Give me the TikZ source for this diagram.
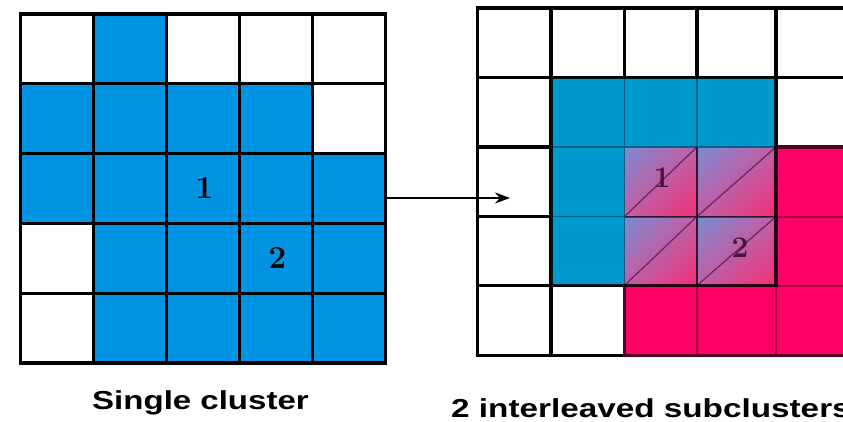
\documentclass[tikz,border=0pt]{standalone}
\usepackage{fontspec}
\newfontfamily\capfont{Liberation Sans}
\usetikzlibrary{arrows.meta,shadings}
\definecolor{lblue}{RGB}{0,148,226}
\definecolor{rblue}{RGB}{0,153,204}
\definecolor{rpink}{RGB}{255,0,102}
\definecolor{ovA}{RGB}{120,140,212}
\definecolor{ovB}{RGB}{245,45,115}
\definecolor{ovM}{RGB}{195,95,165}
\definecolor{tealline}{RGB}{0,80,115}
\definecolor{pinkline}{RGB}{140,0,55}
\definecolor{pinkedge}{RGB}{80,0,30}
\definecolor{diagline}{RGB}{95,30,90}
\definecolor{ovtext}{RGB}{70,20,60}
\begin{document}
\begin{tikzpicture}[x=1pt,y=-1pt,
  gridline/.style={line width=3.3pt,black,line cap=rect},
  thinteal/.style={line width=1.6pt,tealline,opacity=0.8},
  thinpink/.style={line width=2pt,pinkline,opacity=0.8},
  diagstroke/.style={line width=1.3pt,diagline,opacity=0.85},
  digit/.style={font=\fontsize{32}{36}\selectfont\bfseries,inner sep=0pt},
  ovdigit/.style={font=\fontsize{30}{34}\selectfont\bfseries,inner sep=0pt,text=ovtext},
  caption/.style={font=\capfont\bfseries\fontsize{26}{30}\selectfont,inner sep=0pt,anchor=base west}]
\useasboundingbox (0,0) rectangle (843,421);
\clip (0,0) rectangle (843,421);
\fill[white] (0,0) rectangle (843,421);

% ---------- left grid ----------
\foreach \c/\r in {1/0, 0/1,1/1,2/1,3/1, 0/2,1/2,2/2,3/2,4/2, 1/3,2/3,3/3,4/3, 1/4,2/4,3/4,4/4}
  \fill[lblue] ({20.5+73*\c},{14+69.8*\r}) rectangle ({20.5+73*(\c+1)},{14+69.8*(\r+1)});
\foreach \i in {0,...,5} {
  \draw[gridline] ({20.5+73*\i},14) -- ({20.5+73*\i},363);
  \draw[gridline] (20.5,{14+69.8*\i}) -- (385.5,{14+69.8*\i});
}
\node[digit] (l1) at (204.5,188) {1};
\node[digit] (l2) at (277.5,258) {2};

% ---------- right grid ----------
\foreach \x in {477.5,551,624.5,697,776,850}
  \draw[gridline] (\x,8) -- (\x,355.5);
\foreach \y in {8,77.5,147,216.5,285.5,355.5}
  \draw[gridline] (477.5,\y) -- (850,\y);

\fill[rblue] (551,77.5) rectangle (776,285.5);
\fill[rpink] (624.5,147) rectangle (850,355.5);
\foreach \xa/\xb in {624.5/697,697/776}
  \foreach \ya/\yb in {147/216.5,216.5/285.5} {
    \shade[upper left=ovA,lower right=ovB,upper right=ovM,lower left=ovM]
      (\xa,\ya) rectangle (\xb,\yb);
    \draw[diagstroke] (\xa,\yb) -- (\xb,\ya);
  }

% interior thin lines
\draw[thinteal] (551,147) -- (624.5,147) (551,216.5) -- (624.5,216.5)
                (624.5,77.5) -- (624.5,147) (697,77.5) -- (697,147)
                (624.5,147) -- (776,147);
\draw[thinteal] (624.5,147) -- (624.5,285.5);
\draw[thinpink] (697,147) -- (697,355.5) (776,285.5) -- (776,355.5)
                (624.5,216.5) -- (850,216.5) (776,285.5) -- (850,285.5);
\draw[line width=1.6pt,black!70!tealline,opacity=0.7] (697,147) -- (697,285.5)
                (624.5,216.5) -- (776,216.5);

% region outlines
\draw[line width=3.3pt,pinkedge,line join=miter]
  (776,147) -- (850,147) (850,355.5) -- (624.5,355.5) -- (624.5,285.5);
\draw[line width=3.3pt,black,opacity=0.85,line join=miter] (551,77.5) rectangle (776,285.5);

\node[ovdigit] (r1) at (662,178) {1};
\node[ovdigit] (r2) at (740,248) {2};

% ---------- arrow ----------
\coordinate (arrowstart) at (385.5,198);
\coordinate (arrowend) at (510,198);
\draw[line width=2.4pt,-{Stealth[length=15pt,width=11pt]}] (arrowstart) -- (arrowend);

% ---------- captions ----------
\node[caption] (capL) at (92,409) {\scalebox{1.27}[1]{Single cluster}};
\node[caption] (capR) at (451,417) {\scalebox{1.28}[1]{2 interleaved subclusters}};
\end{tikzpicture}
\end{document}
